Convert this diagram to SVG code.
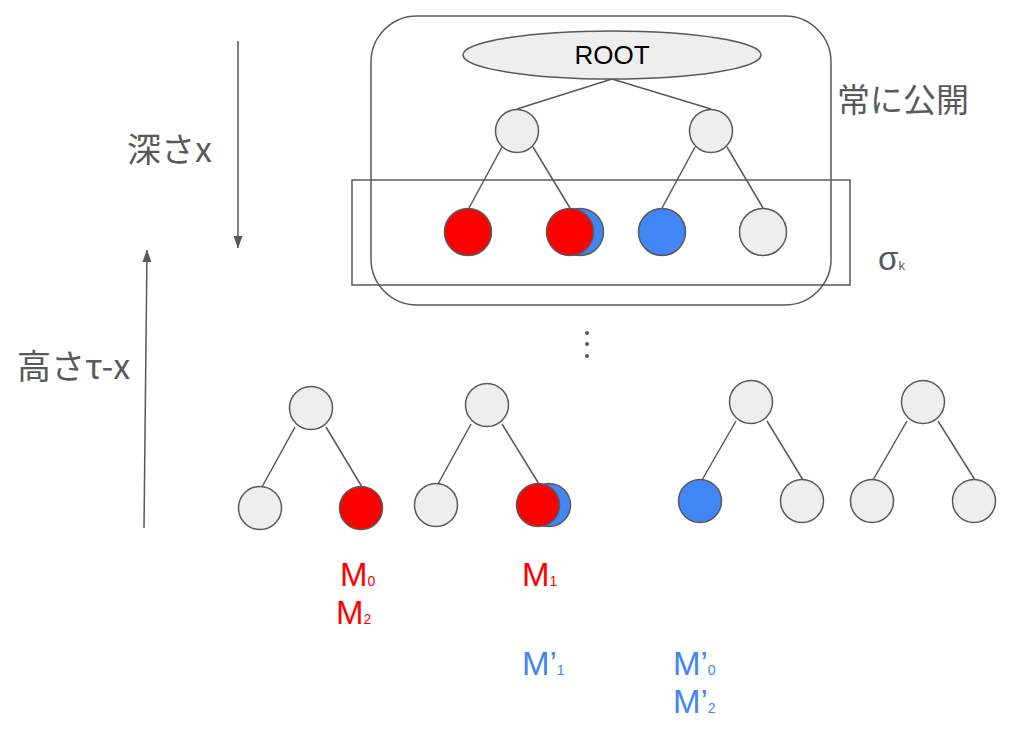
<svg xmlns="http://www.w3.org/2000/svg" width="1033" height="731" viewBox="0 0 1033 731">
<defs>
<marker id="ah" markerWidth="13" markerHeight="10" refX="12" refY="5" orient="auto" markerUnits="userSpaceOnUse">
<path d="M0,0.5 L12.5,5 L0,9.5 Z" fill="#595959"/>
</marker>
<style>
.n{fill:#eeeeee;stroke:#595959;stroke-width:1.5}
.r{fill:#ff0000;stroke:#595959;stroke-width:1.5}
.b{fill:#4285f4;stroke:#595959;stroke-width:1.5}
.e{stroke:#595959;stroke-width:1.5;fill:none}
.frame{fill:none;stroke:#595959;stroke-width:1.5}
.jp{font-family:"Noto Sans CJK JP","Liberation Sans",sans-serif;fill:#595959}
.lat{font-family:"Liberation Sans",Arial,sans-serif}
.red{fill:#ff0000}
.blu{fill:#4285f4}
</style>
</defs>
<rect width="1033" height="731" fill="#ffffff"/>

<g id="public-frame"><rect class="frame" x="371" y="16" width="460" height="289" rx="46" ry="46"/></g>
<g id="sigma-frame"><rect class="frame" x="352" y="180" width="498" height="105"/></g>

<g id="connectors">
<line class="e" x1="612" y1="79" x2="517" y2="109"/>
<line class="e" x1="612" y1="79" x2="711" y2="109"/>
<line class="e" x1="502" y1="147" x2="469" y2="208"/>
<line class="e" x1="533" y1="147" x2="570" y2="208"/>
<line class="e" x1="695" y1="147" x2="662" y2="208"/>
<line class="e" x1="727" y1="147" x2="763" y2="208"/>
<line class="e" x1="295" y1="427" x2="262" y2="487"/>
<line class="e" x1="326" y1="427" x2="362" y2="487"/>
<line class="e" x1="471" y1="424" x2="438" y2="484"/>
<line class="e" x1="502" y1="424" x2="539" y2="484"/>
<line class="e" x1="736" y1="421" x2="702" y2="480"/>
<line class="e" x1="767" y1="421" x2="803" y2="480"/>
<line class="e" x1="907" y1="421" x2="873" y2="480"/>
<line class="e" x1="938" y1="421" x2="975" y2="480"/>
<line class="e" x1="238" y1="41" x2="238" y2="248" marker-end="url(#ah)"/>
<line class="e" x1="144" y1="528" x2="147" y2="250" marker-end="url(#ah)"/>
</g>

<g id="root"><ellipse class="n" cx="612" cy="55" rx="149" ry="24"/><text class="lat" x="612" y="64" font-size="26" text-anchor="middle" fill="#000000">ROOT</text></g>
<g id="n1"><circle class="n" cx="517" cy="131" r="21.5"/></g>
<g id="n2"><circle class="n" cx="711" cy="131" r="21.5"/></g>
<g id="l1"><circle class="r" cx="468" cy="232" r="23.5"/></g>
<g id="l2"><circle class="b" cx="580" cy="232" r="23.5"/><circle class="r" cx="570" cy="232" r="23.5"/></g>
<g id="l3"><circle class="b" cx="662" cy="232" r="23.5"/></g>
<g id="l4"><circle class="n" cx="763" cy="232" r="23.5"/></g>

<g id="dots" fill="#595959"><circle cx="587" cy="333" r="2"/><circle cx="587" cy="344" r="2"/><circle cx="587" cy="356" r="2"/></g>

<g id="t1"><circle class="n" cx="311" cy="408" r="21.5"/><circle class="n" cx="260" cy="508" r="21.5"/><circle class="r" cx="361" cy="508" r="21.5"/></g>
<g id="t2"><circle class="n" cx="487" cy="405" r="21.5"/><circle class="n" cx="436" cy="505" r="21.5"/><circle class="b" cx="549" cy="505" r="21.5"/><circle class="r" cx="538" cy="505" r="21.5"/></g>
<g id="t3"><circle class="n" cx="751" cy="402" r="21.5"/><circle class="b" cx="700" cy="501" r="21.5"/><circle class="n" cx="802" cy="501" r="21.5"/></g>
<g id="t4"><circle class="n" cx="923" cy="402" r="21.5"/><circle class="n" cx="872" cy="501" r="21.5"/><circle class="n" cx="974" cy="501" r="21.5"/></g>

<g id="labels">
<text class="jp" x="837" y="112" font-size="33">常に公開</text>
<text class="lat" x="878" y="270" font-size="33" fill="#595959">σ<tspan font-size="13">k</tspan></text>
<text class="jp" x="127" y="162" font-size="34">深さx</text>
<text class="jp" x="17" y="379" font-size="34">高さτ-x</text>
<text class="lat red" x="340" y="586" font-size="33">M<tspan font-size="14">0</tspan></text>
<text class="lat red" x="336" y="624" font-size="33">M<tspan font-size="14">2</tspan></text>
<text class="lat red" x="522" y="586" font-size="33">M<tspan font-size="14">1</tspan></text>
<text class="lat blu" x="522" y="675" font-size="33">M’<tspan font-size="14">1</tspan></text>
<text class="lat blu" x="673" y="675" font-size="33">M’<tspan font-size="14">0</tspan></text>
<text class="lat blu" x="673" y="713" font-size="33">M’<tspan font-size="14">2</tspan></text>
</g>
</svg>
